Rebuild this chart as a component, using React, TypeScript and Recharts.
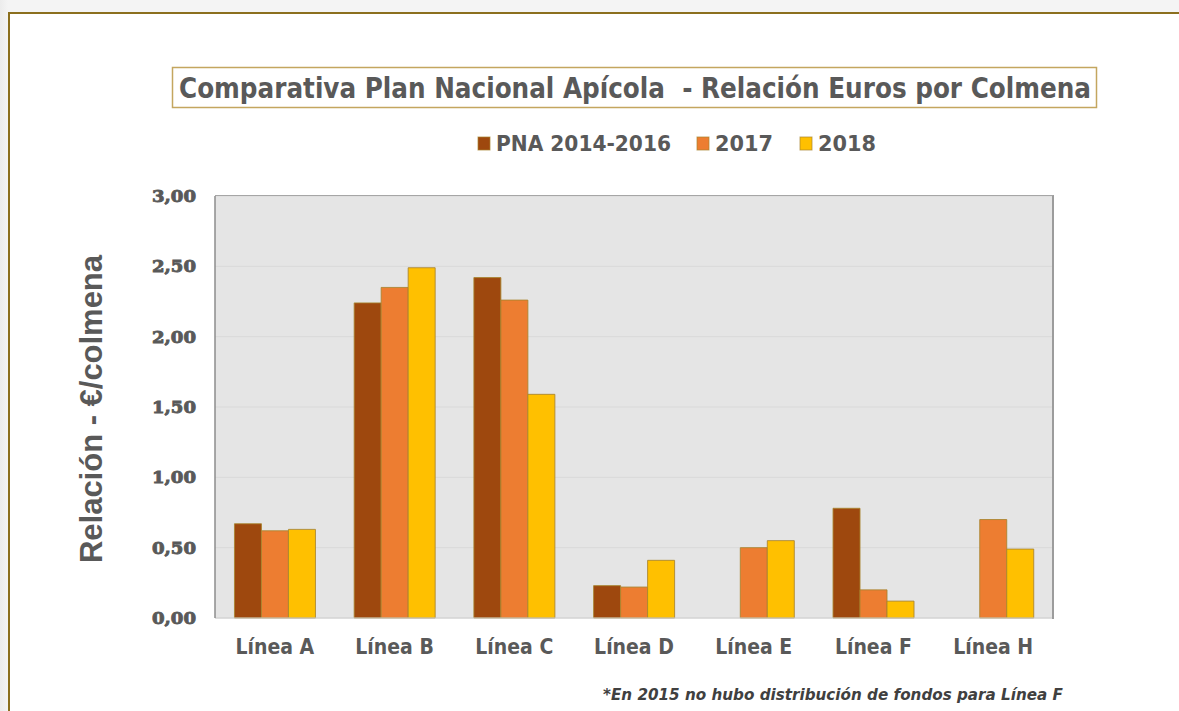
import React from "react";
import { BarChart, Bar, XAxis, YAxis, CartesianGrid } from "recharts";

const categories = ["Línea A", "Línea B", "Línea C", "Línea D", "Línea E", "Línea F", "Línea H"];
const pna20142016 = [0.67, 2.24, 2.42, 0.23, null, 0.78, null];
const values2017 = [0.62, 2.35, 2.26, 0.22, 0.5, 0.2, 0.7];
const values2018 = [0.63, 2.49, 1.59, 0.41, 0.55, 0.12, 0.49];
const seriesNames = ["PNA 2014-2016", "2017", "2018"];
const seriesKeys = ["pna", "y2017", "y2018"];
const seriesColors = ["#9E480E", "#ED7D31", "#FFC000"];
const yTicks = [0, 0.5, 1, 1.5, 2, 2.5, 3];

const titleText = "Comparativa Plan Nacional Apícola  - Relación Euros por Colmena";
const yLabelText = "Relación - €/colmena";
const footnoteText = "*En 2015 no hubo distribución de fondos para Línea F";

const data = categories.map((name, i) => ({
  name,
  pna: pna20142016[i],
  y2017: values2017[i],
  y2018: values2018[i],
}));

const condensed = "'DejaVu Sans Condensed', 'DejaVu Sans', sans-serif";
const textGray = "#595959";

// legend item placement (x of swatch, text width)
const legendLayout = [
  { x: 478, w: 175 },
  { x: 697, w: 58 },
  { x: 800, w: 58 },
];

const fmt = (v: number) => v.toFixed(2).replace(".", ",");

// serif y ticks, thickened with a stroke since a bold serif face may be missing
function YTick(props: any) {
  const { x, y, payload } = props;
  return (
    <text
      x={x}
      y={y}
      dy={6}
      textAnchor="end"
      fontFamily="'DejaVu Serif', serif"
      fontWeight={700}
      fontSize={17}
      fill={textGray}
      stroke={textGray}
      strokeWidth={0.9}
      textLength={44}
      lengthAdjust="spacingAndGlyphs"
    >
      {fmt(payload.value)}
    </text>
  );
}

export default function App() {
  return (
    <div
      style={{
        position: "absolute",
        left: 0,
        top: 0,
        width: 1179,
        height: 711,
        overflow: "hidden",
        background: "linear-gradient(90deg, #ececec 0px, #f4f4f4 8px)",
      }}
    >
      {/* outer frame */}
      <div
        style={{
          position: "absolute",
          left: 8,
          top: 12,
          width: 1200,
          height: 720,
          border: "2px solid #8B6F1E",
          background: "#ffffff",
        }}
      />

      <div style={{ position: "absolute", left: 0, top: 0 }}>
        <BarChart
          width={1179}
          height={711}
          data={data}
          margin={{ top: 196, right: 126, bottom: 63, left: 155 }}
          barCategoryGap="16.25%"
          barGap={0}
        >
          <CartesianGrid vertical={false} fill="#E5E5E5" stroke="#D9D9D9" strokeWidth={1} />
          <XAxis
            dataKey="name"
            interval={0}
            height={30}
            axisLine={{ stroke: "#D0D0D0" }}
            tickLine={false}
            tickMargin={15}
            tick={{ fontSize: 21, fontWeight: "bold", fill: textGray, fontFamily: condensed }}
          />
          <YAxis
            width={60}
            domain={[0, 3]}
            ticks={yTicks}
            axisLine={{ stroke: "#8C8C8C", strokeWidth: 1.5 }}
            tickLine={false}
            tickMargin={13}
            tick={<YTick />}
          />
          {seriesKeys.map((k, i) => (
            <Bar
              key={k}
              dataKey={k}
              name={seriesNames[i]}
              fill={seriesColors[i]}
              stroke="#A8842E"
              strokeOpacity={0.85}
              strokeWidth={1}
              isAnimationActive={false}
            />
          ))}
        </BarChart>
      </div>

      {/* plot area border top/right */}
      <div
        style={{
          position: "absolute",
          left: 215,
          top: 195,
          width: 837,
          height: 423,
          borderTop: "1.5px solid #A6A6A6",
          borderRight: "2px solid #9C9C9C",
          pointerEvents: "none",
        }}
      />

      <svg
        width={1179}
        height={711}
        style={{ position: "absolute", left: 0, top: 0, pointerEvents: "none" }}
      >
        {/* title */}
        <rect x={172.5} y={67.5} width={924} height={40} fill="#ffffff" stroke="#C4A65F" strokeWidth={1.5} />
        <text
          x={635}
          y={98}
          textAnchor="middle"
          fontFamily={condensed}
          fontWeight="bold"
          fontSize={29}
          fill={textGray}
          textLength={912}
          lengthAdjust="spacingAndGlyphs"
          style={{ whiteSpace: "pre" }}
        >
          {titleText}
        </text>

        {/* legend */}
        {seriesNames.map((n, i) => (
          <g key={n}>
            <rect
              x={legendLayout[i].x}
              y={137}
              width={12}
              height={13}
              fill={seriesColors[i]}
              stroke="#A8842E"
              strokeOpacity={0.7}
              strokeWidth={1}
            />
            <text
              x={legendLayout[i].x + 18}
              y={151}
              fontFamily={condensed}
              fontWeight="bold"
              fontSize={22}
              fill={textGray}
              textLength={legendLayout[i].w}
              lengthAdjust="spacingAndGlyphs"
            >
              {n}
            </text>
          </g>
        ))}

        {/* y axis title */}
        <text
          transform="translate(102, 409) rotate(-90)"
          textAnchor="middle"
          fontFamily="'Liberation Sans', Arial, sans-serif"
          fontWeight="bold"
          fontSize={32}
          fill={textGray}
          textLength={308}
          lengthAdjust="spacingAndGlyphs"
        >
          {yLabelText}
        </text>

        {/* footnote */}
        <text
          x={603}
          y={700}
          fontFamily="'DejaVu Sans', sans-serif"
          fontWeight="bold"
          fontStyle="italic"
          fontSize={15}
          fill="#404040"
          textLength={460}
          lengthAdjust="spacingAndGlyphs"
        >
          {footnoteText}
        </text>
      </svg>
    </div>
  );
}
